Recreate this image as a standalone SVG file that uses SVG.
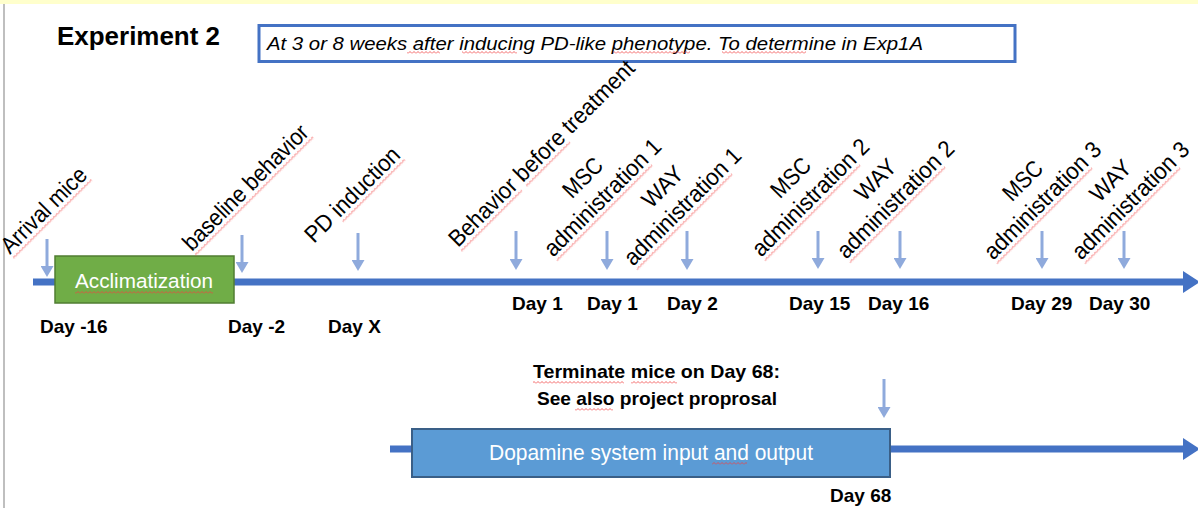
<svg xmlns="http://www.w3.org/2000/svg" width="1198" height="508" viewBox="0 0 1198 508">
<style>
.t{font-family:"Liberation Sans",Arial,sans-serif;fill:#000}
.day{font-family:"Liberation Sans",Arial,sans-serif;font-weight:bold;font-size:19px;fill:#000}
.rot{font-family:"Liberation Sans",Arial,sans-serif;font-size:23.5px;fill:#000}
.sq{fill:url(#sq)}
.tl{stroke:#4472C4;stroke-width:7;fill:none}
.dn{stroke:#8FAADC;stroke-width:3;fill:none;marker-end:url(#head)}
</style>
<defs>
<pattern id="sq" width="4" height="3" patternUnits="userSpaceOnUse">
<path d="M0,2.5 L2,0.5 L4,2.5" fill="none" stroke="#F04040" stroke-width="0.8"/>
</pattern>
<marker id="head" markerUnits="userSpaceOnUse" markerWidth="11" markerHeight="13" refX="0" refY="6.5" orient="auto" viewBox="0 0 11 13">
<path d="M0,0 L11,6.5 L0,13 z" fill="#8FAADC"/>
</marker>
</defs>
<rect x="0" y="0" width="1198" height="508" fill="#fff"/>
<rect x="0" y="0" width="1198" height="4" fill="#FFFFCC"/>
<rect x="3" y="4" width="2" height="504" fill="#BFBFBF"/>

<g id="connectors">
<line class="tl" x1="33" y1="282" x2="1186" y2="282"/>
<polygon points="1183,271 1200,282 1183,293" fill="#4472C4"/>
<line class="tl" x1="390" y1="449" x2="1186" y2="449"/>
<polygon points="1183,438 1200,449 1183,460" fill="#4472C4"/>
<line class="dn" x1="47" y1="239" x2="47" y2="266"/>
<line class="dn" x1="242" y1="235" x2="242" y2="262"/>
<line class="dn" x1="358" y1="233" x2="358" y2="260"/>
<line class="dn" x1="516" y1="231" x2="516" y2="259"/>
<line class="dn" x1="607" y1="231" x2="607" y2="259"/>
<line class="dn" x1="687" y1="231" x2="687" y2="259"/>
<line class="dn" x1="818" y1="231" x2="818" y2="258"/>
<line class="dn" x1="900" y1="231" x2="900" y2="258"/>
<line class="dn" x1="1042" y1="231" x2="1042" y2="258"/>
<line class="dn" x1="1124" y1="231" x2="1124" y2="258"/>
<line class="dn" x1="884" y1="379" x2="884" y2="407"/>
</g>

<g id="title">
<text class="t" x="57" y="45" font-size="25" font-weight="bold" textLength="163" lengthAdjust="spacingAndGlyphs">Experiment 2</text>
</g>

<g id="note">
<rect x="259" y="25.5" width="756" height="36" fill="#fff" stroke="#4472C4" stroke-width="3"/>
<text class="t" x="267" y="50" font-size="18.5" font-style="italic" textLength="656" lengthAdjust="spacingAndGlyphs">At 3 or 8 weeks after inducing PD-like phenotype. To determine in Exp1A</text>
<rect class="sq" x="407" y="51" width="33" height="3"/>
<rect class="sq" x="462" y="51" width="55" height="3"/>
<rect class="sq" x="613" y="51" width="77" height="3"/>
<rect class="sq" x="722" y="51" width="84" height="3"/>
</g>

<g id="acclimatization">
<rect x="55" y="256" width="179" height="47" fill="#70AD47" stroke="#507E32" stroke-width="1.5"/>
<text class="t" x="75" y="288" font-size="20.5" style="fill:#fff" textLength="138" lengthAdjust="spacingAndGlyphs">Acclimatization</text>
<rect class="sq" x="75" y="291" width="138" height="3"/>
</g>

<g id="label-arrival" transform="translate(10,255) rotate(-45)">
<text class="rot" x="0" y="0" textLength="111" lengthAdjust="spacingAndGlyphs">Arrival mice</text>
<rect class="sq" x="0" y="3" width="111" height="3"/>
</g>
<g id="label-baseline" transform="translate(192,252) rotate(-45)">
<text class="rot" x="0" y="0" textLength="167" lengthAdjust="spacingAndGlyphs">baseline behavior</text>
<rect class="sq" x="0" y="3" width="167" height="3"/>
</g>
<g id="label-pd" transform="translate(314,244) rotate(-45)">
<text class="rot" x="0" y="0" textLength="124" lengthAdjust="spacingAndGlyphs">PD induction</text>
<rect class="sq" x="36" y="3" width="88" height="3"/>
</g>
<g id="label-before" transform="translate(458,248) rotate(-45)">
<text class="rot" x="0" y="0" textLength="252" lengthAdjust="spacingAndGlyphs">Behavior before treatment</text>
<rect class="sq" x="0" y="3" width="86" height="3"/>
<rect class="sq" x="92" y="3" width="62" height="3"/>
</g>

<g id="label-msc1" transform="translate(608,203) rotate(-45)">
<text class="rot" text-anchor="middle"><tspan x="0" y="-28" textLength="46" lengthAdjust="spacingAndGlyphs">MSC</tspan><tspan x="0" y="0" textLength="155" lengthAdjust="spacingAndGlyphs">administration 1</tspan></text>
<rect class="sq" x="-77" y="3" width="135" height="3"/>
</g>
<g id="label-way1" transform="translate(688,212) rotate(-45)">
<text class="rot" text-anchor="middle"><tspan x="0" y="-28" textLength="48" lengthAdjust="spacingAndGlyphs">WAY</tspan><tspan x="0" y="0" textLength="155" lengthAdjust="spacingAndGlyphs">administration 1</tspan></text>
<rect class="sq" x="-77" y="3" width="135" height="3"/>
</g>
<g id="label-msc2" transform="translate(816,203) rotate(-45)">
<text class="rot" text-anchor="middle"><tspan x="0" y="-28" textLength="46" lengthAdjust="spacingAndGlyphs">MSC</tspan><tspan x="0" y="0" textLength="155" lengthAdjust="spacingAndGlyphs">administration 2</tspan></text>
<rect class="sq" x="-77" y="3" width="135" height="3"/>
</g>
<g id="label-way2" transform="translate(901,205) rotate(-45)">
<text class="rot" text-anchor="middle"><tspan x="0" y="-28" textLength="48" lengthAdjust="spacingAndGlyphs">WAY</tspan><tspan x="0" y="0" textLength="155" lengthAdjust="spacingAndGlyphs">administration 2</tspan></text>
<rect class="sq" x="-77" y="3" width="135" height="3"/>
</g>
<g id="label-msc3" transform="translate(1048,206) rotate(-45)">
<text class="rot" text-anchor="middle"><tspan x="0" y="-28" textLength="46" lengthAdjust="spacingAndGlyphs">MSC</tspan><tspan x="0" y="0" textLength="155" lengthAdjust="spacingAndGlyphs">administration 3</tspan></text>
<rect class="sq" x="-77" y="3" width="135" height="3"/>
</g>
<g id="label-way3" transform="translate(1136,206) rotate(-45)">
<text class="rot" text-anchor="middle"><tspan x="0" y="-28" textLength="48" lengthAdjust="spacingAndGlyphs">WAY</tspan><tspan x="0" y="0" textLength="155" lengthAdjust="spacingAndGlyphs">administration 3</tspan></text>
<rect class="sq" x="-77" y="3" width="135" height="3"/>
</g>

<g id="days">
<text class="day" x="40" y="333">Day -16</text>
<text class="day" x="228" y="333">Day -2</text>
<text class="day" x="328" y="333">Day X</text>
<text class="day" x="512" y="310">Day 1</text>
<text class="day" x="587" y="310">Day 1</text>
<text class="day" x="667" y="310">Day 2</text>
<text class="day" x="789" y="310">Day 15</text>
<text class="day" x="868" y="310">Day 16</text>
<text class="day" x="1011" y="310">Day 29</text>
<text class="day" x="1089" y="310">Day 30</text>
<text class="day" x="830" y="502">Day 68</text>
</g>

<g id="terminate">
<text class="t" x="533" y="378" font-size="19" font-weight="bold" textLength="247" lengthAdjust="spacingAndGlyphs">Terminate mice on Day 68:</text>
<text class="t" x="537" y="405" font-size="19" font-weight="bold" textLength="240" lengthAdjust="spacingAndGlyphs">See also project proprosal</text>
<rect class="sq" x="533" y="381" width="91" height="3"/>
<rect class="sq" x="631" y="381" width="46" height="3"/>
<rect class="sq" x="575" y="408" width="38" height="3"/>
</g>

<g id="dopamine">
<rect x="412" y="429" width="478" height="48" fill="#5B9BD5" stroke="#3A5F87" stroke-width="2"/>
<text class="t" x="489" y="460" font-size="21.5" style="fill:#fff" textLength="324" lengthAdjust="spacingAndGlyphs">Dopamine system input and output</text>
<rect class="sq" x="712" y="462" width="35" height="3"/>
</g>
</svg>
